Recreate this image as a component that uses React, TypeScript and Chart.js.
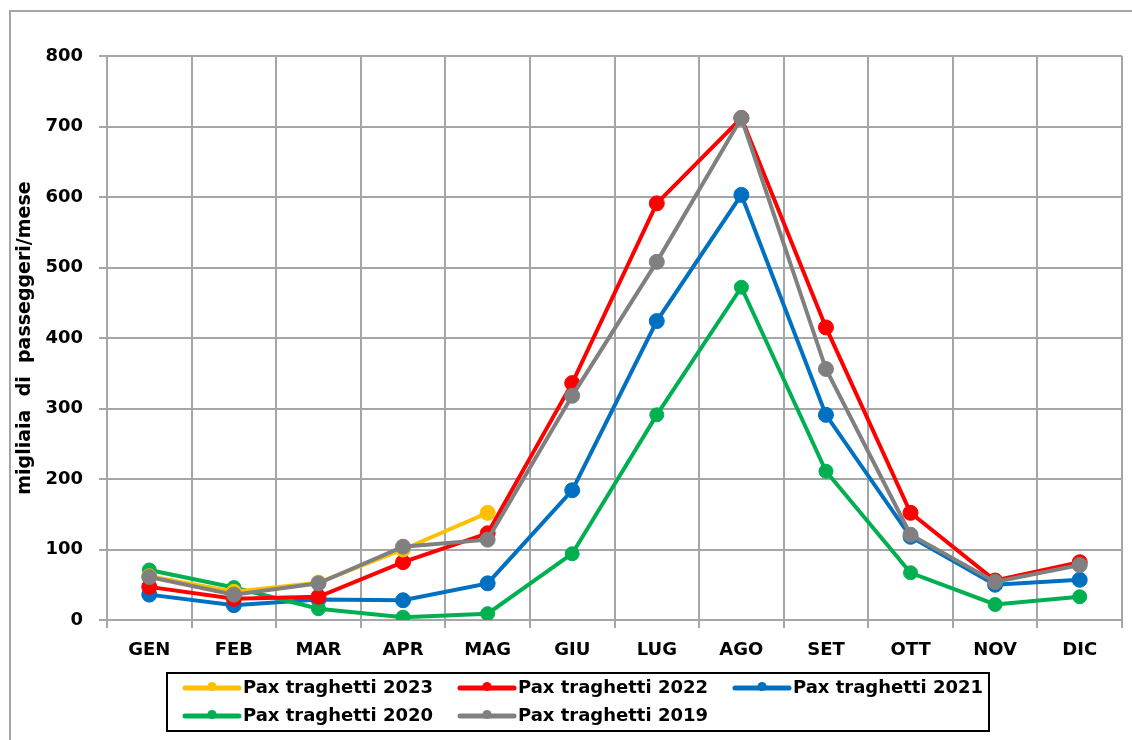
import React, { useEffect, useRef } from "react";
import { Chart, registerables } from "chart.js";

Chart.register(...registerables);

const months = ["GEN", "FEB", "MAR", "APR", "MAG", "GIU", "LUG", "AGO", "SET", "OTT", "NOV", "DIC"];
const pax2023 = [62, 40, 53, 100, 152, null, null, null, null, null, null, null];
const pax2022 = [47, 30, 33, 82, 123, 336, 591, 712, 415, 152, 56, 82];
const pax2021 = [36, 21, 29, 28, 52, 184, 424, 603, 291, 118, 50, 57];
const pax2020 = [71, 46, 16, 4, 9, 94, 291, 472, 211, 67, 22, 33];
const pax2019 = [61, 36, 52, 104, 114, 318, 508, 712, 356, 121, 54, 78];
const yTicks = [0, 100, 200, 300, 400, 500, 600, 700, 800];
const yTitle = "migliaia  di  passeggeri/mese";

const FONT = '"DejaVu Sans", Verdana, sans-serif';

const boxLegend = {
  id: "boxLegend",
  afterDraw(chart: any) {
    const ctx = chart.ctx;
    ctx.save();
    const bx = 167, by = 673, bw = 822, bh = 58;
    ctx.lineWidth = 2;
    ctx.strokeStyle = "#000";
    ctx.strokeRect(bx, by, bw, bh);
    chart.data.datasets.forEach((ds: any, i: number) => {
      const col = i % 3;
      const row = Math.floor(i / 3);
      const x = 185 + col * 275;
      const y = 688 + row * 28;
      ctx.strokeStyle = ds.borderColor;
      ctx.lineWidth = 5;
      ctx.lineCap = "round";
      ctx.beginPath();
      ctx.moveTo(x, y);
      ctx.lineTo(x + 54, y);
      ctx.stroke();
      ctx.fillStyle = ds.borderColor;
      ctx.beginPath();
      ctx.arc(x + 27, y - 1.5, 4.5, 0, Math.PI * 2);
      ctx.fill();
      ctx.fillStyle = "#000";
      ctx.font = "bold 18px " + FONT;
      ctx.textBaseline = "middle";
      ctx.textAlign = "left";
      ctx.fillText(ds.label, x + 58, y);
    });
    ctx.restore();
  },
};

function makeSet(label: string, data: (number | null)[], color: string, order: number, radius = 7.5) {
  return {
    label,
    data,
    borderColor: color,
    backgroundColor: color,
    pointBackgroundColor: color,
    pointBorderColor: color,
    pointBorderWidth: 1,
    pointRadius: radius,
    borderWidth: 4,
    tension: 0,
    order,
    spanGaps: false,
  };
}

export default function App() {
  const ref = useRef<HTMLCanvasElement>(null);
  useEffect(() => {
    if (!ref.current) return;
    const chart = new Chart(ref.current, {
      type: "line",
      data: {
        labels: months,
        datasets: [
          makeSet("Pax traghetti 2023", pax2023, "#FFC000", 1),
          makeSet("Pax traghetti 2022", pax2022, "#FF0000", 2),
          makeSet("Pax traghetti 2021", pax2021, "#0070C0", 4),
          makeSet("Pax traghetti 2020", pax2020, "#00B050", 3, 7),
          makeSet("Pax traghetti 2019", pax2019, "#808080", 0),
        ],
      },
      options: {
        animation: false,
        responsive: false,
        maintainAspectRatio: false,
        layout: { padding: { top: 56, right: 10, bottom: 0, left: 0 } },
        plugins: {
          legend: { display: false },
          tooltip: { enabled: false },
          title: { display: false },
        },
        scales: {
          x: {
            type: "category",
            offset: true,
            grid: {
              offset: true,
              color: "#A6A6A6",
              lineWidth: 2,
              drawTicks: true,
              tickLength: 8,
              tickColor: "#A6A6A6",
            },
            border: { color: "#A6A6A6", width: 2 },
            ticks: {
              color: "#000",
              font: { family: FONT, size: 18, weight: "bold" },
              padding: 12,
              maxRotation: 0,
              autoSkip: false,
            },
            afterFit(scale: any) {
              scale.height = 120;
            },
          },
          y: {
            min: 0,
            max: 800,
            afterBuildTicks(scale: any) {
              scale.ticks = yTicks.map((v) => ({ value: v }));
            },
            grid: {
              color: "#A6A6A6",
              lineWidth: 2,
              drawTicks: true,
              tickLength: 8,
              tickColor: "#A6A6A6",
            },
            border: { color: "#A6A6A6", width: 2 },
            ticks: {
              color: "#000",
              font: { family: FONT, size: 18, weight: "bold" },
              padding: 16,
            },
            title: {
              display: true,
              text: yTitle,
              color: "#000",
              font: { family: FONT, size: 19, weight: "bold" },
              padding: { top: 14, bottom: 0 },
            },
            afterFit(scale: any) {
              scale.width = 107;
            },
          },
        },
      },
      plugins: [boxLegend],
    });
    return () => chart.destroy();
  }, []);

  return (
    <div
      style={{
        position: "fixed",
        left: 0,
        top: 0,
        width: 1132,
        height: 740,
        overflow: "hidden",
        background: "#fff",
      }}
    >
      <div
        style={{
          position: "absolute",
          left: 9,
          top: 10,
          width: 1200,
          height: 800,
          border: "2px solid #A6A6A6",
        }}
      />
      <canvas
        ref={ref}
        width={1132}
        height={740}
        style={{ position: "absolute", left: 0, top: 0, width: 1132, height: 740 }}
      />
    </div>
  );
}
